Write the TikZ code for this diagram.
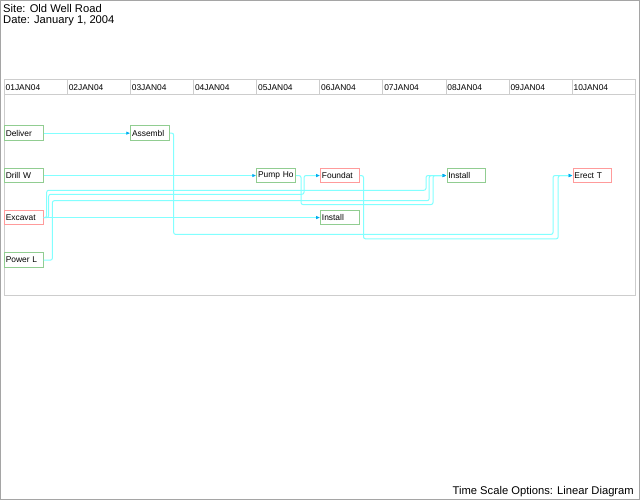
\documentclass[tikz,border=0pt]{standalone}
\usepackage{fontspec}
\setmainfont{Liberation Sans}
\usetikzlibrary{arrows.meta}

\definecolor{gridgray}{RGB}{205,205,205}
\definecolor{framegray}{RGB}{165,165,165}
\definecolor{critred}{RGB}{255,155,155}
\definecolor{normgreen}{RGB}{145,205,145}
\definecolor{linkcyan}{RGB}{130,255,255}

\tikzset{
  task/.style={draw=normgreen, line width=1pt, anchor=north west, minimum height=14.7pt,
    text width=36.2pt, inner xsep=1.25pt, inner ysep=2pt, align=left,
    font=\fontsize{8.4}{9}\selectfont},
  crit/.style={task, draw=critred},
  link/.style={draw=linkcyan, line width=1pt, rounded corners=2pt,
    -{Latex[length=4pt,width=3.5pt,color=cyan]}},
  title/.style={inner sep=0pt, font=\fontsize{11.2}{13}\selectfont},
}

\begin{document}
\begin{tikzpicture}[x=1pt, y=-1pt]
    \useasboundingbox (0,0) rectangle (640,500);
    \draw[framegray] (0.5,0.5) rectangle (639.5,499.5);

    % titles and footnote
    \node[title, anchor=west] (site) at (3,8) {Site: Old Well Road};
    \node[title, anchor=west] (date) at (3,21) {Date: January 1, 2004};
    \node[title, anchor=east] (opts) at (634,492) {Time Scale Options: Linear Diagram};

    % time axis
    \draw[gridgray] (4,79.3) rectangle (635,295);
    \draw[gridgray] (4,94.3) -- (635,94.3);
    \foreach \d [count=\i from 0] in {01,02,03,04,05,06,07,08,09,10}{
        \draw[gridgray] ({4+63.1*\i},79.3) -- ({4+63.1*\i},94.3);
        \node[anchor=west, inner sep=0pt, font=\fontsize{8.4}{9}\selectfont] (d\d) at ({5.5+63.1*\i},87.5) {\d JAN04};
    }

    % activities
    \node[task] (deliver) at (4,125.3) {Deliver};
    \node[task] (assembl) at (130.3,125.3) {Assembl};
    \node[task] (drill) at (4,167.7) {Drill W};
    \node[task] (pump) at (256.3,167.7) {Pump Ho};
    \node[crit] (foundat) at (320.2,167.7) {Foundat};
    \node[task] (pipe) at (446.5,167.7) {Install};
    \node[crit] (erect) at (572.7,167.7) {Erect T};
    \node[crit] (excavat) at (4,209.7) {Excavat};
    \node[task] (pumpin) at (320.2,209.7) {Install};
    \node[task] (power) at (4,252.3) {Power L};

    % precedence links
    \draw[link] (deliver.east) -- (assembl.west);
    \draw[link] (drill.east) -- (pump.west);
    \draw[link] (excavat.east) -- (pumpin.west);
    \draw[link] (assembl.east) -- ++(3.7,0) |- ++(379.3,101.3) |- (erect.west);
    \draw[link] (foundat.east) -- ++(3.6,0) |- ++(194.7,63.3) |- (erect.west);
    \draw[link] (excavat.east) -- ++(5,0) |- ++(255.3,-23.3) |- (foundat.west);
    \draw[link] (excavat.east) -- ++(3,0) |- ++(379.3,-27.3) |- (pipe.west);
    \draw[link] (power.east) -- ++(8.7,0) |- ++(376.8,-59.5) |- (pipe.west);
    \draw[link] (pump.east) -- ++(5,0) |- ++(132,29) |- (pipe.west);
\end{tikzpicture}
\end{document}
